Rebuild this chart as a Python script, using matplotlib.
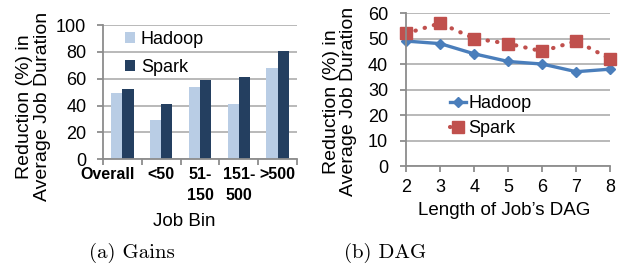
import matplotlib.pyplot as plt
import matplotlib.transforms as mtransforms
import numpy as np

plt.rcParams['font.family'] = ['Liberation Sans', 'DejaVu Sans']

# (a) gains per job bin
bins = ["Overall", "<50", "51-\n150", "151-\n500", ">500"]
gain_hadoop = [49, 29, 54, 41, 68]
gain_spark = [52, 41, 59, 61, 81]

# (b) gains vs DAG length
dag_len = [2, 3, 4, 5, 6, 7, 8]
dag_hadoop = [49, 48, 44, 41, 40, 37, 38]
dag_spark = [52, 56, 50, 48, 45, 49, 42]

fig = plt.figure(figsize=(6.24, 2.71), dpi=100)
axis_gray = '#8c8c8c'
grid_gray = '#a6a6a6'
tick_fs = 13
label_fs = 13.5
ylabel = 'Reduction (%) in\nAverage Job Duration'


def style(ax):
    for s in ['top', 'right']:
        ax.spines[s].set_visible(False)
    for s in ['left', 'bottom']:
        ax.spines[s].set_color(axis_gray)
        ax.spines[s].set_linewidth(1.3)
    ax.yaxis.grid(True, color=grid_gray, linewidth=1.1)
    ax.set_axisbelow(True)
    ax.tick_params(axis='both', color=axis_gray, length=4, width=1.3, labelsize=tick_fs)


# left: bars
ax1 = fig.add_axes([0.165, 0.413, 0.311, 0.494])
x = np.arange(len(bins))
w = 0.29
ax1.bar(x - w / 2, gain_hadoop, w, color='#b9cde5', label='Hadoop')
ax1.bar(x + w / 2, gain_spark, w, color='#243f60', label='Spark')
ax1.set_xlim(-0.5, len(bins) - 0.5)
ax1.set_ylim(0, 100)
ax1.set_yticks(range(0, 101, 20))
style(ax1)
ax1.tick_params(axis='y', pad=8)
ax1.set_xticks(np.arange(len(bins) + 1) - 0.5)
ax1.set_xticklabels([])
ax1.set_xticks(x, minor=True)
ax1.set_xticklabels(bins, minor=True, fontweight='bold', fontsize=11.5, va='top', linespacing=1.5)
ax1.tick_params(axis='x', which='minor', length=0, pad=6)
first = ax1.get_xticklabels(minor=True)[0]
first.set_transform(first.get_transform() +
                    mtransforms.ScaledTranslation(-15 / 100, 0, fig.dpi_scale_trans))
ax1.set_xlabel('Job Bin', fontsize=label_fs)
ax1.xaxis.set_label_coords(0.42, -0.40)
ax1.set_ylabel(ylabel, fontsize=14, linespacing=1.05)
ax1.yaxis.set_label_coords(-0.27, 0.39)
ax1.legend(loc='upper left', bbox_to_anchor=(0.06, 1.04), frameon=False, fontsize=13,
           handlelength=0.55, handleheight=0.55, handletextpad=0.3, labelspacing=0.62,
           borderaxespad=0.2)

# right: lines
ax2 = fig.add_axes([0.651, 0.387, 0.327, 0.565])
ax2.plot(dag_len, dag_hadoop, '-', color='#4a7ebb', linewidth=2.4, marker='D', markersize=5,
         label='Hadoop', clip_on=False)
ax2.plot(dag_len, dag_spark, color='#c0504d', linewidth=3, linestyle=(0, (0.1, 2.2)),
         dash_capstyle='round', marker='s', markersize=8, label='Spark', clip_on=False)
ax2.set_xlim(2, 8)
ax2.set_ylim(0, 60)
ax2.set_yticks(range(0, 61, 10))
ax2.set_xticks(dag_len)
style(ax2)
ax2.tick_params(axis='y', pad=9)
ax2.tick_params(axis='x', pad=5)
ax2.set_xlabel('Length of Job\u2019s DAG', fontsize=label_fs)
ax2.xaxis.set_label_coords(0.48, -0.235)
ax2.set_ylabel(ylabel, fontsize=14, linespacing=1.05)
ax2.yaxis.set_label_coords(-0.24, 0.42)
ax2.legend(loc='upper left', bbox_to_anchor=(0.18, 0.51), frameon=False, fontsize=13,
           handlelength=0.9, handletextpad=0.1, labelspacing=0.45, borderaxespad=0)

fig.text(0.212, 0.066, '(a) Gains', family='cmr10', fontsize=15, ha='center', va='center')
fig.text(0.617, 0.066, '(b) DAG', family='cmr10', fontsize=15, ha='center', va='center')

fig.savefig('out.png', dpi=100)
